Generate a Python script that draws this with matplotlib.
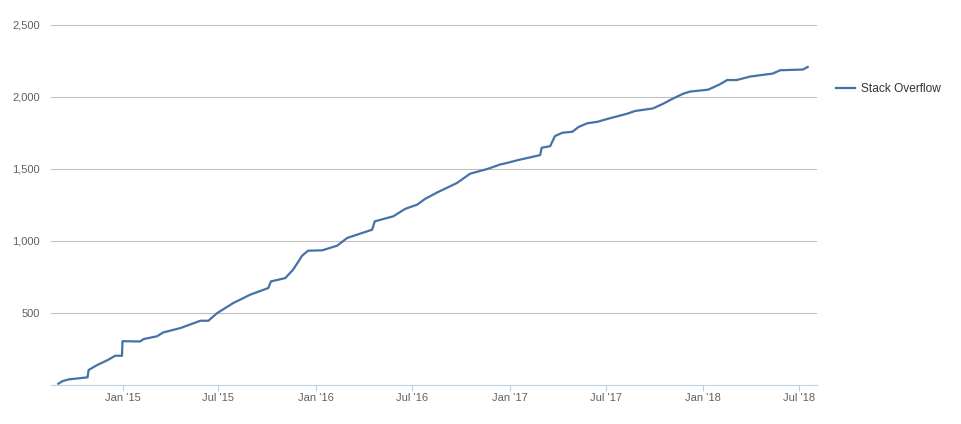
import pandas as pd
import matplotlib.pyplot as plt
import matplotlib.dates as mdates
from matplotlib.ticker import FuncFormatter

# Reputation over time
dates = [
    "2014-09-02", "2014-09-10", "2014-09-22", "2014-10-27", "2014-10-29",
    "2014-11-14", "2014-12-04", "2014-12-18", "2014-12-31", "2015-01-01",
    "2015-02-03", "2015-02-10", "2015-03-07", "2015-03-19", "2015-04-20",
    "2015-05-28", "2015-06-12", "2015-06-29", "2015-07-29", "2015-08-30",
    "2015-10-03", "2015-10-08", "2015-11-04", "2015-11-19", "2015-12-06",
    "2015-12-17", "2016-01-13", "2016-02-10", "2016-02-29", "2016-04-16",
    "2016-04-21", "2016-05-26", "2016-06-17", "2016-07-10", "2016-07-25",
    "2016-08-17", "2016-09-23", "2016-10-18", "2016-11-19", "2016-12-14",
    "2016-12-27", "2017-01-17", "2017-02-08", "2017-02-27", "2017-03-02",
    "2017-03-18", "2017-03-27", "2017-04-10", "2017-04-29", "2017-05-10",
    "2017-05-27", "2017-06-15", "2017-07-09", "2017-08-10", "2017-08-25",
    "2017-09-28", "2017-10-17", "2017-11-05", "2017-11-24", "2017-12-07",
    "2018-01-10", "2018-02-01", "2018-02-15", "2018-03-05", "2018-03-30",
    "2018-05-12", "2018-05-26", "2018-07-08", "2018-07-17",
]
reputation = [
    7, 25, 37, 51, 102,
    136, 171, 201, 201, 302,
    300, 317, 336, 363, 393,
    444, 444, 498, 567, 625,
    671, 717, 740, 799, 896,
    930, 933, 965, 1019, 1076,
    1134, 1169, 1220, 1250, 1290,
    1335, 1400, 1465, 1497, 1529,
    1540, 1560, 1578, 1594, 1645,
    1656, 1726, 1749, 1756, 1788,
    1815, 1825, 1850, 1881, 1900,
    1918, 1950, 1987, 2020, 2035,
    2048, 2085, 2115, 2115, 2139,
    2160, 2183, 2188, 2206,
]
series_name = "Stack Overflow"
y_ticks = [500, 1000, 1500, 2000, 2500]

df = pd.DataFrame({"date": pd.to_datetime(dates), "rep": reputation})

fig = plt.figure(figsize=(9.62, 4.24), dpi=100)
ax = fig.add_axes([0.053, 0.0927, 0.796, 0.85])

line_color = "#4572A7"
ax.plot(df["date"], df["rep"], color=line_color, linewidth=1.6, label=series_name)

ax.set_xlim(pd.Timestamp("2014-08-19"), pd.Timestamp("2018-08-03"))
ax.set_ylim(0, 2502)

ax.set_yticks(y_ticks)
ax.yaxis.set_major_formatter(FuncFormatter(lambda v, p: f"{int(v):,}"))
ax.grid(axis="y", color="#C0C0C0", linewidth=0.8)
ax.set_axisbelow(True)

ax.xaxis.set_major_locator(mdates.MonthLocator(bymonth=[1, 7]))
ax.xaxis.set_major_formatter(mdates.DateFormatter("%b '%y"))

for side in ["top", "right", "left"]:
    ax.spines[side].set_visible(False)
ax.spines["bottom"].set_color("#C0D0E0")

ax.tick_params(axis="y", length=0, pad=8, labelsize=8, labelcolor="#606060")
ax.tick_params(axis="x", length=4, color="#C0D0E0", pad=2, labelsize=8,
               labelcolor="#606060")
for lbl in ax.get_xticklabels() + ax.get_yticklabels():
    lbl.set_family("Liberation Sans")

leg = fig.legend(loc="center left", bbox_to_anchor=(0.863, 0.79), frameon=False,
                 handlelength=1.6, handletextpad=0.5, borderpad=0,
                 prop={"family": "Liberation Sans", "size": 8.6})
for t in leg.get_texts():
    t.set_color("#333333")

fig.savefig("out.png", dpi=100, facecolor="white")
